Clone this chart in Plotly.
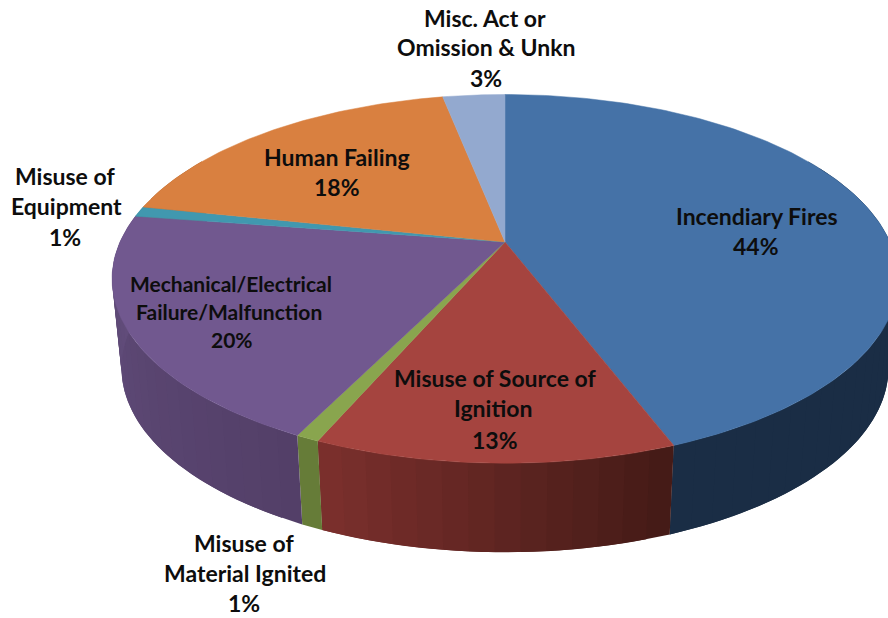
import math
import plotly.graph_objects as go

categories = ["Incendiary Fires", "Misuse of Source of Ignition", "Misuse of Material Ignited",
              "Mechanical/Electrical Failure/Malfunction", "Misuse of Equipment",
              "Human Failing", "Misc. Act or Omission & Unkn"]
values = [44.2, 12.3, 0.8, 20.1, 0.9, 18.6, 3.1]
shown_percent = [44, 13, 1, 20, 1, 18, 3]

top_colors = ["#4572a7", "#a5443f", "#89a54e", "#71588f", "#4198af", "#d98040", "#93a9cf"]
wall_from = ["#1a2d45", "#7c302d", "#667c38", "#634e7d", "#2f6f82", "#9c5a2a", "#6b7c98"]
wall_to = ["#1a2d45", "#431a16", "#667c38", "#533f68", "#2f6f82", "#9c5a2a", "#6b7c98"]

label_lines = [
    ["Incendiary Fires"], ["Misuse of Source of", "Ignition"], ["Misuse of", "Material Ignited"],
    ["Mechanical/Electrical", "Failure/Malfunction"], ["Misuse of", "Equipment"],
    ["Human Failing"], ["Misc. Act or", "Omission & Unkn"],
]
label_xy = [
    [(757, 216), (756, 246)],
    [(495, 378), (493, 408), (495, 440)],
    [(244, 543), (245, 573), (244, 603)],
    [(231, 283), (229, 311), (232, 339)],
    [(65, 176), (66, 206), (65, 237)],
    [(337, 157), (337, 187)],
    [(485, 18), (486, 47), (486, 78)],
]
label_size = [23, 23, 23, 21, 23, 23, 23]

CX, CY, RX, RY, K, DEPTH, SHRINK = 505, 242, 385, 177, 0.2, 89, 0.976


def project(theta, bottom=False):
    X, Z = math.sin(theta), -math.cos(theta)
    d = 1 - K * Z
    x, y = RX * X / d, RY * Z / d
    if bottom:
        return CX + SHRINK * x, CY + y + DEPTH
    return CX + x, CY + y


def mix(a, b, t):
    pa = [int(a[i:i + 2], 16) for i in (1, 3, 5)]
    pb = [int(b[i:i + 2], 16) for i in (1, 3, 5)]
    return "rgb(%d,%d,%d)" % tuple(round(p + (q - p) * t) for p, q in zip(pa, pb))


fig = go.Figure()
total = sum(values)
edges = [0.0]
for v in values:
    edges.append(edges[-1] + v / total * 2 * math.pi)

# side walls: each gradient strip reaches under the next one so no seams show
for i in range(len(values)):
    a0, a1 = edges[i], edges[i + 1]
    lo, hi = max(a0, math.radians(60)), min(a1, math.radians(300))
    if hi <= lo:
        continue
    n = max(1, int(math.degrees(hi - lo) / 3))
    for j in range(n):
        s, e = lo + (hi - lo) * j / n, lo + (hi - lo) * min(n, j + 2) / n
        c = mix(wall_from[i], wall_to[i], 1 - (j + .5) / n)
        top = [project(s + (e - s) * q / 4) for q in range(5)]
        bot = [project(e - (e - s) * q / 4, True) for q in range(5)]
        pts = top + bot + top[:1]
        fig.add_trace(go.Scatter(x=[p[0] for p in pts], y=[p[1] for p in pts], mode="lines",
                                 fill="toself", fillcolor=c, line=dict(color=c, width=0),
                                 hoverinfo="skip", showlegend=False))

# top surface
for i, name in enumerate(categories):
    a0, a1 = edges[i], edges[i + 1]
    n = max(3, int(math.degrees(a1 - a0)))
    pts = [(CX, CY)] + [project(a0 + (a1 - a0) * j / n) for j in range(n + 1)] + [(CX, CY)]
    fig.add_trace(go.Scatter(x=[p[0] for p in pts], y=[p[1] for p in pts], mode="lines",
                             fill="toself", fillcolor=top_colors[i],
                             line=dict(color=top_colors[i], width=0.5),
                             name=name, hoverinfo="name", showlegend=False))

# labels
for i in range(len(categories)):
    lines = label_lines[i] + [f"{shown_percent[i]}%"]
    for line, (x, y) in zip(lines, label_xy[i]):
        fig.add_annotation(x=x, y=y, text=line, showarrow=False, xanchor="center", yanchor="middle",
                           font=dict(family="Lato", size=label_size[i], color="#0d0d0d", weight=700))

fig.update_layout(width=888, height=618, margin=dict(l=0, r=0, t=0, b=0),
                  paper_bgcolor="white", plot_bgcolor="white", showlegend=False,
                  xaxis=dict(range=[0, 888], visible=False, fixedrange=True),
                  yaxis=dict(range=[618, 0], visible=False, fixedrange=True))
fig.write_html("out.html", config={"displayModeBar": False},
               post_script="document.body.style.margin='0';document.body.style.overflow='hidden';window.dispatchEvent(new Event('resize'));")
